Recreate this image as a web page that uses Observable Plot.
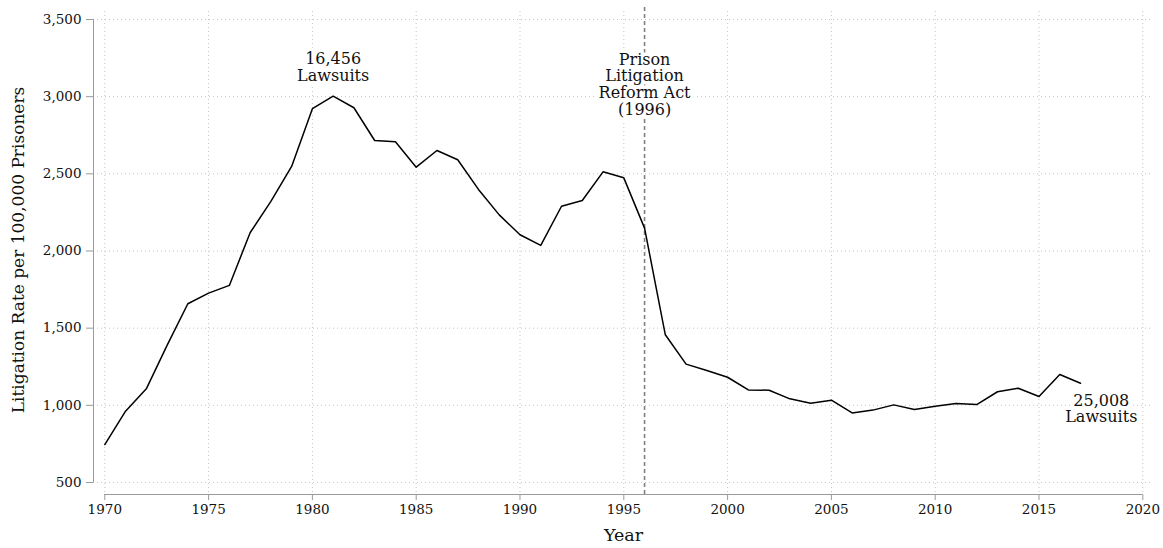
<!DOCTYPE html>
<html>
<head>
<meta charset="utf-8">
<script src="https://cdn.jsdelivr.net/npm/d3@7"></script>
<script src="https://cdn.jsdelivr.net/npm/@observablehq/plot@0.6"></script>
<style>
  html, body { margin: 0; padding: 0; background: #fff; }
</style>
</head>
<body>
<div id="chart"></div>
<script>
// ---- data ----
const years = [1970,1971,1972,1973,1974,1975,1976,1977,1978,1979,
               1980,1981,1982,1983,1984,1985,1986,1987,1988,1989,
               1990,1991,1992,1993,1994,1995,1996,1997,1998,1999,
               2000,2001,2002,2003,2004,2005,2006,2007,2008,2009,
               2010,2011,2012,2013,2014,2015,2016,2017];
const rates = [746,962,1107,1388,1658,1727,1777,2118,2321,2548,
               2922,3003,2928,2716,2708,2543,2651,2591,2399,2234,
               2105,2036,2290,2327,2513,2474,2148,1457,1267,1226,
               1182,1100,1098,1042,1014,1033,951,969,1003,973,
               994,1012,1005,1088,1111,1057,1200,1143];

const xTicks = [1970,1975,1980,1985,1990,1995,2000,2005,2010,2015,2020];
const yTicks = [500,1000,1500,2000,2500,3000,3500];

const annotationLabels = ["16,456\nLawsuits", "Prison\nLitigation\nReform Act\n(1996)", "25,008\nLawsuits"];
const annotationYears  = [1981, 1996, 2018];
const annotationRates  = [3189, 3079, 979];

const reformYear = 1996;
const xTitle = "Year";
const yTitle = "Litigation Rate per 100,000 Prisoners";

// ---- build tables ----
const series = years.map((yr, i) => ({year: yr, rate: rates[i]}));
const notes = annotationLabels.map((t, i) => ({text: t, year: annotationYears[i], rate: annotationRates[i]}));

const xDomain = [1969.456, 2020.515];
const yDomain = [422.2, 3551.8];
const commaFmt = d3.format(",.0f");

const chart = Plot.plot({
  width: 1163,
  height: 548,
  marginLeft: 93,
  marginRight: 10,
  marginTop: 11,
  marginBottom: 54,
  style: {fontFamily: "'DejaVu Serif', serif", fontSize: "13.5px", color: "#111", background: "#fff"},
  x: {domain: xDomain},
  y: {domain: yDomain},
  marks: [
    Plot.gridX(xTicks, {stroke: "#c4c4c4", strokeOpacity: 1, strokeDasharray: "1,3"}),
    Plot.gridY(yTicks, {stroke: "#c4c4c4", strokeOpacity: 1, strokeDasharray: "1,3"}),
    Plot.ruleX([xDomain[0]], {y1: yTicks[0], y2: yTicks[yTicks.length - 1], stroke: "#9a9a9a", strokeWidth: 1}),
    Plot.ruleY([yDomain[0]], {x1: xTicks[0], x2: xTicks[xTicks.length - 1], stroke: "#9a9a9a", strokeWidth: 1}),
    Plot.axisX({ticks: xTicks, tickFormat: "d", tickSize: 6, tickPadding: 4, stroke: "#9a9a9a", fill: "#111", label: null}),
    Plot.axisY({ticks: yTicks, tickFormat: commaFmt, tickSize: 7, tickPadding: 5, stroke: "#9a9a9a", fill: "#111", label: null}),
    Plot.ruleX([reformYear], {y1: yDomain[0], y2: 3578, stroke: "#808080", strokeWidth: 1.6, strokeDasharray: "4,3"}),
    Plot.line(series, {x: "year", y: "rate", stroke: "#000", strokeWidth: 1.5}),
    Plot.text(notes, {x: "year", y: "rate", text: "text", fontSize: 16, lineHeight: 1.05,
                      lineAnchor: "middle", fill: "#111", stroke: "#fff", strokeWidth: 7}),
    Plot.text([xTitle], {frameAnchor: "bottom", dy: 46, fontSize: 17.5, fill: "#111"}),
    Plot.text([yTitle], {frameAnchor: "left", textAnchor: "middle", dx: -75, dy: -3, rotate: -90, fontSize: 17, fill: "#111"})
  ]
});
document.getElementById("chart").appendChild(chart);
</script>
</body>
</html>
